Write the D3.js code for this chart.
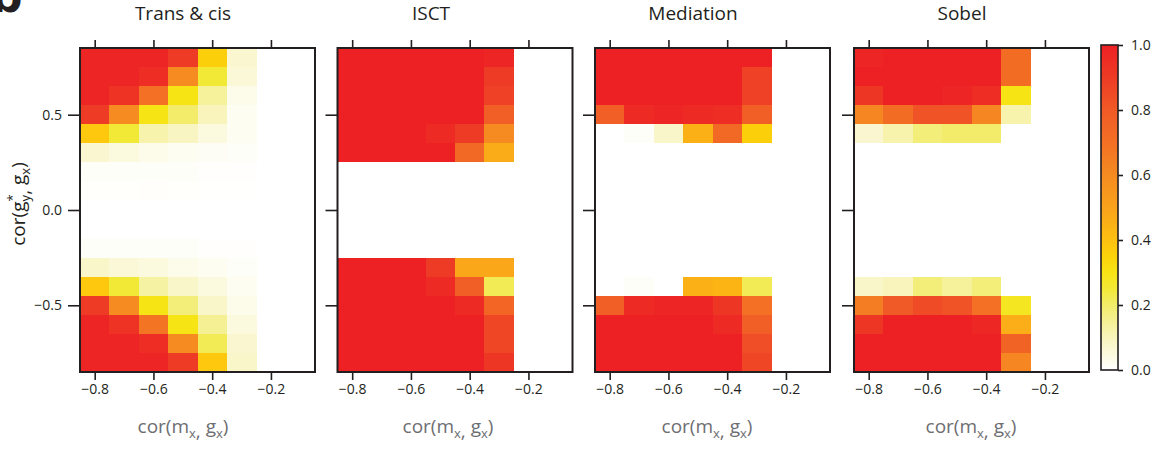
<!DOCTYPE html>
<html>
<head>
<meta charset="utf-8">
<script src="https://cdn.jsdelivr.net/npm/d3@7"></script>
<style>
  body { margin: 0; background: #fff; }
  text { font-family: "Open Sans", "Noto Sans", sans-serif; fill: #231f20; }
</style>
</head>
<body>
<div id="chart"></div>
<script>
// grid centres
var xCats = [-0.8, -0.7, -0.6, -0.5, -0.4, -0.3];
var yCats = [0.8, 0.7, 0.6, 0.5, 0.4, 0.3, 0.2, 0.1, 0.0, -0.1, -0.2, -0.3, -0.4, -0.5, -0.6, -0.7, -0.8];

var panelTitles = ["Trans & cis", "ISCT", "Mediation", "Sobel"];
var xTicks = [-0.8, -0.6, -0.4, -0.2];
var yTicks = [0.5, 0.0, -0.5];
var legendTicks = [0, 0.2, 0.4, 0.6, 0.8, 1.0];

// rows follow yCats (top to bottom), columns follow xCats
var transCis = [
    [0.98, 0.98, 0.98, 0.90, 0.36, 0.07],
    [0.98, 0.98, 0.95, 0.60, 0.25, 0.06],
    [0.98, 0.93, 0.70, 0.30, 0.14, 0.03],
    [0.90, 0.60, 0.30, 0.20, 0.10, 0.02],
    [0.38, 0.25, 0.12, 0.09, 0.05, 0.02],
    [0.07, 0.05, 0.03, 0.02, 0.015, 0.01],
    [0.01, 0.01, 0.01, 0.01, 0.005, 0.005],
    [0.004, 0.004, 0.006, 0.004, 0.002, 0.002],
    [0, 0, 0, 0, 0, 0],
    [0, 0, 0, 0, 0, 0],
    [0.01, 0.01, 0.01, 0.01, 0.005, 0.005],
    [0.08, 0.06, 0.05, 0.03, 0.02, 0.01],
    [0.38, 0.25, 0.13, 0.08, 0.05, 0.02],
    [0.90, 0.60, 0.30, 0.18, 0.08, 0.03],
    [0.98, 0.93, 0.68, 0.30, 0.15, 0.05],
    [0.98, 0.98, 0.95, 0.60, 0.22, 0.07],
    [0.98, 0.98, 0.98, 0.90, 0.38, 0.08]
];
var isct = [
    [1, 1, 1, 1, 1, 0.98],
    [1, 1, 1, 1, 1, 0.90],
    [1, 1, 1, 1, 1, 0.88],
    [1, 1, 1, 1, 1, 0.78],
    [1, 1, 1, 0.96, 0.90, 0.60],
    [1, 1, 1, 1, 0.73, 0.47],
    [0, 0, 0, 0, 0, 0],
    [0, 0, 0, 0, 0, 0],
    [0, 0, 0, 0, 0, 0],
    [0, 0, 0, 0, 0, 0],
    [0, 0, 0, 0, 0, 0],
    [1, 1, 1, 0.90, 0.48, 0.48],
    [1, 1, 1, 0.96, 0.78, 0.22],
    [1, 1, 1, 1, 0.96, 0.75],
    [1, 1, 1, 1, 1, 0.86],
    [1, 1, 1, 1, 1, 0.86],
    [1, 1, 1, 1, 1, 0.92]
];
var mediation = [
    [1, 1, 1, 1, 1, 1],
    [1, 1, 1, 1, 1, 0.88],
    [1, 1, 1, 1, 1, 0.88],
    [0.78, 0.96, 0.98, 0.96, 0.95, 0.78],
    [0, 0.01, 0.08, 0.45, 0.73, 0.36],
    [0, 0, 0, 0, 0, 0],
    [0, 0, 0, 0, 0, 0],
    [0, 0, 0, 0, 0, 0],
    [0, 0, 0, 0, 0, 0],
    [0, 0, 0, 0, 0, 0],
    [0, 0, 0, 0, 0, 0],
    [0, 0, 0, 0, 0, 0],
    [0, 0.01, 0, 0.45, 0.44, 0.22],
    [0.78, 0.96, 0.98, 0.98, 0.92, 0.70],
    [1, 1, 1, 1, 0.96, 0.78],
    [1, 1, 1, 1, 1, 0.84],
    [1, 1, 1, 1, 1, 0.86]
];
var sobel = [
    [0.98, 1, 1, 1, 1, 0.72],
    [1, 1, 1, 1, 1, 0.72],
    [0.92, 1, 1, 0.98, 0.95, 0.30],
    [0.62, 0.72, 0.82, 0.82, 0.62, 0.12],
    [0.07, 0.12, 0.18, 0.20, 0.20, 0],
    [0, 0, 0, 0, 0, 0],
    [0, 0, 0, 0, 0, 0],
    [0, 0, 0, 0, 0, 0],
    [0, 0, 0, 0, 0, 0],
    [0, 0, 0, 0, 0, 0],
    [0, 0, 0, 0, 0, 0],
    [0, 0, 0, 0, 0, 0],
    [0.08, 0.10, 0.18, 0.14, 0.18, 0],
    [0.65, 0.80, 0.85, 0.82, 0.70, 0.28],
    [0.92, 1, 1, 1, 0.97, 0.46],
    [1, 1, 1, 1, 1, 0.76],
    [1, 1, 1, 1, 1, 0.62]
];
var panelData = [transCis, isct, mediation, sobel];

// colour ramp white -> yellow -> orange -> red
var colorStops = [0, 0.1, 0.2, 0.25, 0.3, 0.35, 0.4, 0.5, 0.6, 0.7, 0.8, 0.9, 1.0];
var colorValues = ["#ffffff", "#f8f4bc", "#f2ec6a", "#f2e936", "#f7e414", "#fcd30a", "#fdc010",
    "#f9a21b", "#f58b21", "#f37024", "#f05a26", "#ee3b25", "#ed2024"];

var svgWidth = 1159;
var svgHeight = 455;

var panelLeft = [80, 337.5, 595, 854];
var titleX = [183, 431, 693, 962];
var xLabelX = [183, 448, 707, 971];
var panelWidth = 235;
var panelTop = 48;
var panelHeight = 324;

var svg = d3.select("#chart")
    .append("svg")
    .attr("width", svgWidth)
    .attr("height", svgHeight);

var color = d3.scaleLinear()
    .domain(colorStops)
    .range(colorValues)
    .clamp(true);

var xscale = d3.scaleLinear()
    .domain([-0.85, -0.05])
    .range([0, panelWidth]);

var yscale = d3.scaleLinear()
    .domain([-0.85, 0.85])
    .range([panelHeight, 0]);

var cellW = xscale(-0.7) - xscale(-0.8);
var cellH = yscale(0.7) - yscale(0.8);
var fmt = d3.format(".1f");

// panel letter, cropped at the top edge as in the figure
svg.append("text")
    .attr("x", -9)
    .attr("y", 12)
    .style("font-size", "44px")
    .style("font-weight", "bold")
    .style("font-family", "'DejaVu Sans', sans-serif")
    .text("b");

function styleAxis(ax) {
    ax.select(".domain").remove();
    ax.selectAll(".tick line").attr("stroke", "#231f20").attr("stroke-width", 1.6);
    ax.selectAll(".tick text")
        .style("font-family", "'Open Sans', sans-serif")
        .style("font-size", "14px")
        .attr("fill", "#231f20");
}

panelData.forEach(function (mat, p) {
    var g = svg.append("g")
        .attr("transform", `translate(${panelLeft[p]}, ${panelTop})`);

    var cells = [];
    mat.forEach(function (row, i) {
        row.forEach(function (v, j) {
            cells.push({ x: xCats[j], y: yCats[i], v: v });
        });
    });

    g.selectAll("rect.cell")
        .data(cells)
        .enter()
        .append("rect")
        .attr("class", "cell")
        .attr("x", d => xscale(d.x) - cellW / 2)
        .attr("y", d => yscale(d.y) - cellH / 2)
        .attr("width", cellW + 0.5)
        .attr("height", cellH + 0.5)
        .attr("shape-rendering", "crispEdges")
        .attr("fill", d => color(d.v));

    // axes
    styleAxis(g.append("g")
        .attr("transform", `translate(0, ${panelHeight})`)
        .call(d3.axisBottom(xscale).tickValues(xTicks).tickFormat(fmt).tickSize(8).tickPadding(4)));
    styleAxis(g.append("g")
        .call(d3.axisTop(xscale).tickValues(xTicks).tickFormat("").tickSize(8)));
    styleAxis(g.append("g")
        .call(d3.axisLeft(yscale).tickValues(yTicks).tickFormat(p === 0 ? fmt : "").tickSize(12).tickPadding(6)));

    // frame
    g.append("rect")
        .attr("width", panelWidth)
        .attr("height", panelHeight)
        .attr("fill", "none")
        .attr("stroke", "#231f20")
        .attr("stroke-width", 2);

    svg.append("text")
        .attr("x", titleX[p])
        .attr("y", 20)
        .attr("text-anchor", "middle")
        .style("font-size", "19px")
        .text(panelTitles[p]);

    // x label cor(m_x, g_x)
    var xl = svg.append("text")
        .attr("x", xLabelX[p])
        .attr("y", 433)
        .attr("text-anchor", "middle")
        .style("font-size", "19px")
        .style("fill", "#6d6e71");
    xl.append("tspan").text("cor(m");
    xl.append("tspan").attr("dy", 5).style("font-size", "13px").text("x");
    xl.append("tspan").text(",");
    xl.append("tspan").attr("dy", -5).text(" g");
    xl.append("tspan").attr("dy", 5).style("font-size", "13px").text("x");
    xl.append("tspan").attr("dy", -5).text(")");
});

// y label cor(g*_y, g_x)
var yl = svg.append("text")
    .attr("transform", "translate(25, 204) rotate(-90)")
    .attr("text-anchor", "middle")
    .style("font-size", "19px");
yl.append("tspan").text("cor(g");
yl.append("tspan").attr("dy", -8).style("font-size", "13px").text("*");
yl.append("tspan").attr("dx", -7).attr("dy", 13).style("font-size", "13px").text("y");
yl.append("tspan").text(",");
yl.append("tspan").attr("dy", -5).text(" g");
yl.append("tspan").attr("dy", 5).style("font-size", "13px").text("x");
yl.append("tspan").attr("dy", -5).text(")");

// colour legend
var legX = 1101, legY = 45, legW = 17, legH = 325;
var defs = svg.append("defs");
var grad = defs.append("linearGradient")
    .attr("id", "legGrad")
    .attr("x1", "0").attr("y1", "1").attr("x2", "0").attr("y2", "0");
grad.selectAll("stop")
    .data(colorStops)
    .enter()
    .append("stop")
    .attr("offset", d => d)
    .attr("stop-color", d => color(d));

svg.append("rect")
    .attr("x", legX)
    .attr("y", legY)
    .attr("width", legW)
    .attr("height", legH)
    .attr("fill", "url(#legGrad)")
    .attr("stroke", "#231f20")
    .attr("stroke-width", 1.6);

var legScale = d3.scaleLinear().domain([0, 1]).range([legY + legH, legY]);
styleAxis(svg.append("g")
    .attr("transform", `translate(${legX + legW}, 0)`)
    .call(d3.axisRight(legScale).tickValues(legendTicks).tickFormat(fmt).tickSize(5).tickPadding(8)));
</script>
</body>
</html>
